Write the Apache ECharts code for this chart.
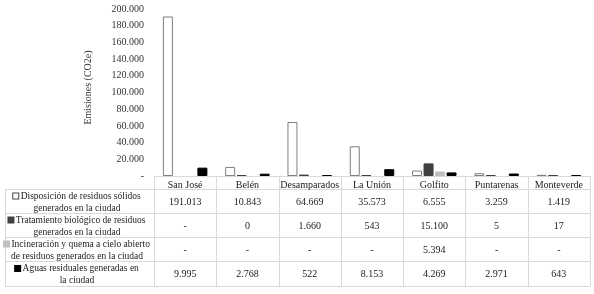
<!DOCTYPE html>
<html>
<head>
<meta charset="utf-8">
<script src="https://cdn.jsdelivr.net/npm/echarts@6/dist/echarts.min.js"></script>
<style>
html, body { margin: 0; padding: 0; background: #fff; }
#chart { width: 594px; height: 294px; }
</style>
</head>
<body>
<div id="chart"></div>
<script>
// data
const cities = ['San José', 'Belén', 'Desamparados', 'La Unión', 'Golfito', 'Puntarenas', 'Monteverde'];
const disposal = [191013, 10843, 64669, 35573, 6555, 3259, 1419];
const biological = [null, 0, 1660, 543, 15100, 5, 17];
const burning = [null, null, null, null, 5394, null, null];
const wastewater = [9995, 2768, 522, 8153, 4269, 2971, 643];
const seriesNames = [
    ['Disposición de residuos sólidos', 'generados en la ciudad'],
    ['Tratamiento biológico de residuos', 'generados en la ciudad'],
    ['Incineración y quema a cielo abierto', 'de residuos generados en la ciudad'],
    ['Aguas residuales generadas en', 'la ciudad']
];
const yTicks = { min: 0, max: 200000, interval: 20000 };

const FONT = '"Liberation Serif", "Times New Roman", serif';
const colors = ['#ffffff', '#404040', '#bfbfbf', '#000000'];
const borders = ['#7f7f7f', '#404040', '#bfbfbf', '#000000'];

const gridLeft = 154, gridRight = 4, gridTop = 9, axisY = 176;
const rowLines = [189, 213, 237, 261, 286];
const tableLeft = 5;

function fmt(v) {
    if (v === null || v === undefined) return '-';
    return String(v).replace(/\B(?=(\d{3})+(?!\d))/g, '.');
}

const chart = echarts.init(document.getElementById('chart'));
const W = 594, H = 294;
const colW = (W - gridLeft - gridRight) / cities.length;
const tableRight = W - gridRight;
const allData = [disposal, biological, burning, wastewater];

// table drawn under the axis
const graphics = [];
rowLines.forEach(y => {
    graphics.push({
        type: 'line', silent: true,
        shape: { x1: tableLeft, y1: y + 0.5, x2: tableRight, y2: y + 0.5 },
        style: { stroke: '#d9d9d9', lineWidth: 1 }
    });
});
graphics.push({
    type: 'line', silent: true,
    shape: { x1: tableLeft + 0.5, y1: rowLines[0], x2: tableLeft + 0.5, y2: rowLines[4] },
    style: { stroke: '#d9d9d9', lineWidth: 1 }
});
for (let i = 0; i <= cities.length; i++) {
    const x = Math.round(gridLeft + i * colW) + 0.5;
    graphics.push({
        type: 'line', silent: true,
        shape: { x1: x, y1: axisY, x2: x, y2: rowLines[4] },
        style: { stroke: '#d9d9d9', lineWidth: 1 }
    });
}
allData.forEach((arr, r) => {
    const cy = (rowLines[r] + rowLines[r + 1]) / 2 + 1;
    arr.forEach((v, c) => {
        graphics.push({
            type: 'text', silent: true,
            style: {
                text: fmt(v), x: gridLeft + (c + 0.5) * colW, y: cy,
                align: 'center', verticalAlign: 'middle',
                fontFamily: FONT, fontSize: 10, fill: '#222'
            }
        });
    });
    graphics.push({
        type: 'text', silent: true,
        style: {
            text: '{m|} ' + seriesNames[r][0] + '\n' + seriesNames[r][1],
            x: 77, y: cy,
            align: 'center', verticalAlign: 'middle',
            fontFamily: FONT, fontSize: 9.5, lineHeight: 12, fill: '#222',
            rich: {
                m: { width: 5, height: 5, backgroundColor: colors[r], borderColor: r === 0 ? '#444' : colors[r], borderWidth: 1 }
            }
        }
    });
});

chart.setOption({
    animation: false,
    grid: { left: gridLeft, right: gridRight, top: gridTop, bottom: H - axisY },
    xAxis: {
        type: 'category',
        data: cities,
        axisLine: { lineStyle: { color: '#d9d9d9' } },
        axisTick: { show: false },
        axisLabel: { fontFamily: FONT, fontSize: 10, color: '#222', margin: 4, interval: 0 }
    },
    yAxis: {
        type: 'value',
        min: yTicks.min, max: yTicks.max, interval: yTicks.interval,
        name: 'Emisiones (CO2e)',
        nameLocation: 'middle',
        nameGap: 61,
        nameTextStyle: { fontFamily: FONT, fontSize: 10, color: '#333', padding: [0, 0, 0, 10] },
        axisLine: { show: false },
        axisTick: { show: false },
        splitLine: { show: false },
        axisLabel: {
            fontFamily: FONT, fontSize: 10, color: '#333', margin: 10,
            formatter: v => v === 0 ? '-' : fmt(v)
        }
    },
    series: allData.map((arr, i) => ({
        name: seriesNames[i].join(' '),
        type: 'bar',
        data: arr,
        barWidth: 10,
        barGap: '15%',
        barMinHeight: 1,
        itemStyle: { color: colors[i], borderColor: borders[i], borderWidth: 1 }
    })),
    graphic: graphics
});
</script>
</body>
</html>
